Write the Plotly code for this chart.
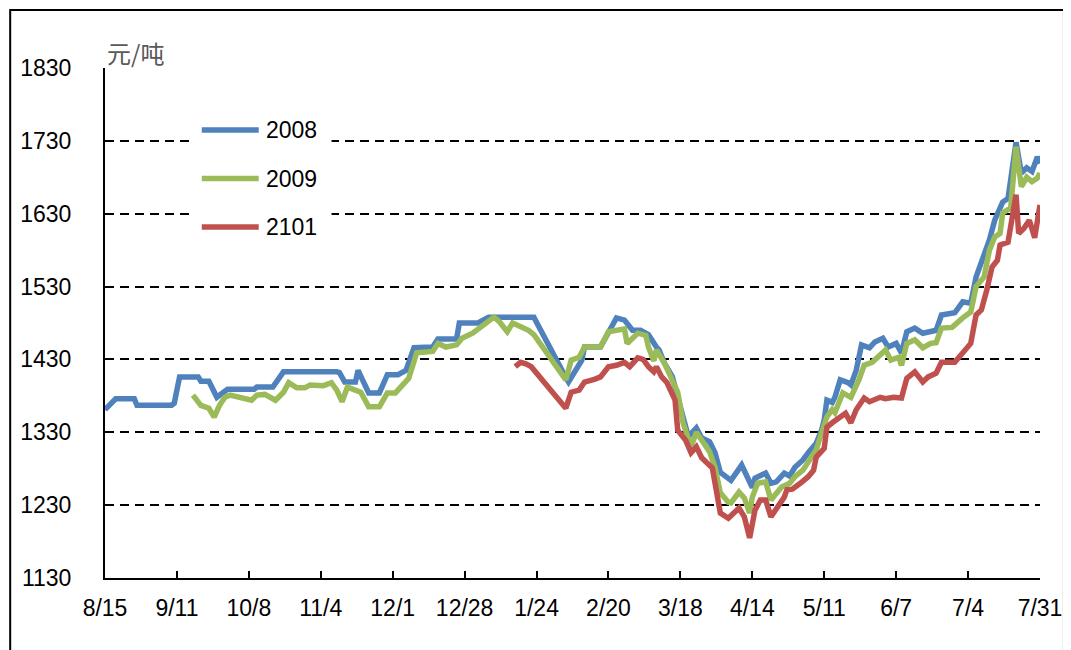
import plotly.graph_objects as go

# ---------------- data ----------------
dates_2008 = ["2019-08-15","2019-08-19","2019-08-26","2019-08-27","2019-09-09","2019-09-10","2019-09-12","2019-09-19","2019-09-20","2019-09-23",
              "2019-09-26","2019-09-30","2019-10-10","2019-10-11","2019-10-17","2019-10-21","2019-11-10","2019-11-11","2019-11-13","2019-11-17",
              "2019-11-18","2019-11-20","2019-11-22","2019-11-26","2019-11-29","2019-12-03","2019-12-06","2019-12-09","2019-12-16","2019-12-18",
              "2019-12-25","2019-12-26","2020-01-02","2020-01-06","2020-01-23","2020-02-04","2020-02-05","2020-02-10","2020-02-11","2020-02-17",
              "2020-02-23","2020-02-26","2020-02-29","2020-03-03","2020-03-06","2020-03-09","2020-03-10","2020-03-12","2020-03-15","2020-03-17",
              "2020-03-19","2020-03-21","2020-03-24","2020-03-26","2020-03-29","2020-03-31","2020-04-02","2020-04-06","2020-04-10","2020-04-13",
              "2020-04-14","2020-04-15","2020-04-17","2020-04-19","2020-04-21","2020-04-23","2020-04-26","2020-04-28","2020-04-30","2020-05-03",
              "2020-05-05","2020-05-08","2020-05-10","2020-05-11","2020-05-12","2020-05-14","2020-05-15","2020-05-17","2020-05-20","2020-05-21",
              "2020-05-23","2020-05-25","2020-05-28","2020-05-30","2020-06-02","2020-06-04","2020-06-07","2020-06-09","2020-06-11","2020-06-14",
              "2020-06-17","2020-06-22","2020-06-24","2020-06-29","2020-07-02","2020-07-05","2020-07-07","2020-07-09","2020-07-12","2020-07-14",
              "2020-07-17","2020-07-19","2020-07-22","2020-07-24","2020-07-26","2020-07-28","2020-07-30","2020-07-31"]
vals_2008 = [1361,1376,1376,1367,1367,1370,1406,1406,1400,1400,
             1378,1389,1389,1392,1392,1413,1413,1412,1399,1399,
             1415,1399,1384,1384,1409,1409,1415,1446,1447,1458,
             1458,1480,1480,1488,1488,1405,1399,1429,1447,1447,
             1487,1484,1470,1470,1464,1447,1443,1425,1406,1378,
             1351,1324,1336,1322,1317,1302,1275,1264,1285,1260,
             1254,1267,1271,1274,1260,1262,1274,1270,1282,1292,
             1302,1315,1333,1347,1374,1371,1378,1402,1398,1395,
             1415,1450,1446,1454,1459,1447,1452,1439,1468,1473,
             1466,1470,1491,1494,1509,1507,1543,1562,1594,1621,
             1646,1651,1728,1686,1693,1688,1708,1699]

dates_2009 = ["2019-09-17","2019-09-20","2019-09-23","2019-09-25","2019-09-27","2019-09-29","2019-10-01","2019-10-09","2019-10-11","2019-10-14",
              "2019-10-18","2019-10-21","2019-10-23","2019-10-26","2019-10-29","2019-10-31","2019-11-05","2019-11-08","2019-11-10","2019-11-12",
              "2019-11-14","2019-11-19","2019-11-22","2019-11-26","2019-11-29","2019-12-02","2019-12-04","2019-12-07","2019-12-10","2019-12-16",
              "2019-12-18","2019-12-21","2019-12-25","2019-12-27","2019-12-31","2020-01-06","2020-01-08","2020-01-10","2020-01-13","2020-01-15",
              "2020-01-17","2020-01-21","2020-01-23","2020-02-04","2020-02-06","2020-02-09","2020-02-11","2020-02-17","2020-02-20","2020-02-24",
              "2020-02-26","2020-02-27","2020-03-02","2020-03-05","2020-03-06","2020-03-08","2020-03-09","2020-03-12","2020-03-16","2020-03-17",
              "2020-03-19","2020-03-22","2020-03-24","2020-03-27","2020-03-29","2020-03-31","2020-04-02","2020-04-05","2020-04-06","2020-04-09",
              "2020-04-11","2020-04-13","2020-04-14","2020-04-16","2020-04-19","2020-04-21","2020-04-23","2020-04-25","2020-04-28","2020-04-30",
              "2020-05-03","2020-05-05","2020-05-08","2020-05-10","2020-05-12","2020-05-14","2020-05-15","2020-05-18","2020-05-21","2020-05-24",
              "2020-05-26","2020-05-29","2020-06-01","2020-06-03","2020-06-05","2020-06-08","2020-06-09","2020-06-11","2020-06-14","2020-06-17",
              "2020-06-20","2020-06-22","2020-06-24","2020-06-28","2020-07-02","2020-07-04","2020-07-05","2020-07-07","2020-07-10","2020-07-12",
              "2020-07-14","2020-07-16","2020-07-17","2020-07-20","2020-07-22","2020-07-24","2020-07-26","2020-07-28","2020-07-30","2020-07-31"]
vals_2009 = [1381,1367,1363,1351,1367,1378,1381,1374,1381,1382,
             1374,1385,1398,1391,1391,1395,1394,1398,1388,1372,
             1392,1385,1365,1365,1384,1384,1392,1404,1439,1441,
             1452,1447,1450,1459,1466,1484,1488,1482,1468,1480,
             1477,1470,1464,1402,1429,1433,1447,1447,1468,1470,
             1472,1452,1466,1463,1447,1428,1443,1425,1392,1385,
             1343,1310,1330,1313,1303,1282,1247,1234,1233,1248,
             1240,1219,1241,1260,1262,1237,1246,1255,1260,1269,
             1278,1288,1306,1329,1351,1361,1357,1384,1378,1402,
             1422,1426,1436,1443,1429,1433,1422,1452,1457,1446,
             1452,1453,1473,1474,1487,1494,1495,1530,1543,1580,
             1598,1603,1631,1638,1722,1667,1680,1674,1679,1686]

dates_2101 = ["2020-01-16","2020-01-18","2020-01-20","2020-01-22","2020-02-04","2020-02-06","2020-02-09","2020-02-11","2020-02-15","2020-02-17",
              "2020-02-20","2020-02-23","2020-02-26","2020-02-28","2020-03-02","2020-03-04","2020-03-06","2020-03-08","2020-03-09","2020-03-11",
              "2020-03-13","2020-03-16","2020-03-17","2020-03-20","2020-03-22","2020-03-24","2020-03-26","2020-03-28","2020-03-30","2020-04-02",
              "2020-04-05","2020-04-09","2020-04-11","2020-04-13","2020-04-15","2020-04-17","2020-04-19","2020-04-21","2020-04-23","2020-04-26",
              "2020-04-27","2020-04-29","2020-05-02","2020-05-05","2020-05-07","2020-05-08","2020-05-11","2020-05-12","2020-05-14","2020-05-17",
              "2020-05-19","2020-05-21","2020-05-23","2020-05-26","2020-05-28","2020-06-01","2020-06-03","2020-06-06","2020-06-09","2020-06-11",
              "2020-06-14","2020-06-17","2020-06-19","2020-06-22","2020-06-24","2020-06-29","2020-07-02","2020-07-04","2020-07-05","2020-07-07",
              "2020-07-09","2020-07-11","2020-07-13","2020-07-15","2020-07-16","2020-07-19","2020-07-22","2020-07-23","2020-07-25","2020-07-27",
              "2020-07-29","2020-07-31"]
vals_2101 = [1420,1426,1424,1420,1363,1385,1388,1399,1403,1406,
             1420,1422,1426,1420,1432,1430,1420,1413,1420,1406,
             1398,1374,1333,1319,1302,1310,1295,1288,1281,1219,
             1212,1226,1214,1185,1223,1237,1237,1214,1226,1241,
             1251,1252,1260,1269,1278,1296,1308,1337,1343,1351,
             1356,1343,1361,1377,1372,1378,1376,1378,1377,1404,
             1413,1399,1406,1411,1426,1426,1440,1447,1452,1491,
             1498,1525,1557,1566,1587,1591,1656,1603,1610,1621,
             1597,1642]

tick_dates = ["2019-08-15","2019-09-11","2019-10-08","2019-11-04","2019-12-01","2019-12-28","2020-01-24",
              "2020-02-20","2020-03-18","2020-04-14","2020-05-11","2020-06-07","2020-07-04","2020-07-31"]
tick_labels = ["8/15","9/11","10/8","11/4","12/1","12/28","1/24","2/20","3/18","4/14","5/11","6/7","7/4","7/31"]
y_ticks = [1130, 1230, 1330, 1430, 1530, 1630, 1730, 1830]

series_names = ["2008", "2009", "2101"]
series_dates = [dates_2008, dates_2009, dates_2101]
series_vals = [vals_2008, vals_2009, vals_2101]
series_colors = ["#4F81BD", "#9BBB59", "#C0504D"]

# ---------------- figure ----------------
fig = go.Figure()
for name, d, v, c in zip(series_names, series_dates, series_vals, series_colors):
    fig.add_trace(go.Scatter(x=d, y=v, name=name, mode="lines", showlegend=False,
                             line=dict(color=c, width=5.5, shape="linear")))

font_main = "Liberation Sans, Arial, sans-serif"

fig.update_layout(
    width=1071, height=650, autosize=False,
    margin=dict(l=95, r=39, t=60, b=80, pad=0),
    paper_bgcolor="white", plot_bgcolor="white",
    font=dict(family=font_main, size=23, color="black"),
    showlegend=False,
    xaxis=dict(type="date", range=["2019-08-15", "2020-07-31"],
               tickvals=tick_dates, ticktext=tick_labels,
               showgrid=False, zeroline=False,
               showline=True, linecolor="black", linewidth=2,
               ticks="inside", ticklen=7, tickwidth=1.5, tickcolor="black",
               ticklabelstandoff=8,
               tickfont=dict(size=23, family=font_main)),
    yaxis=dict(range=[1130, 1830], tickvals=y_ticks,
               showgrid=True, gridcolor="black", gridwidth=2, griddash="9px,6px",
               zeroline=False, showline=True, linecolor="black", linewidth=2,
               ticks="inside", ticklen=5, tickwidth=1.5, tickcolor="black",
               ticklabelstandoff=27,
               tickfont=dict(size=23, family=font_main)),
)

# unit label
fig.add_annotation(text="元/吨", xref="paper", yref="paper", x=0.0, y=1.031,
                   xanchor="left", yanchor="middle", showarrow=False,
                   font=dict(family="Noto Sans CJK SC", size=24, color="#595959"))

# legend (box, sample lines, labels)
fig.add_shape(type="rect", xref="paper", yref="paper",
              x0=0.0907, x1=0.2423, y0=0.643, y1=0.9216,
              line=dict(width=0), fillcolor="white", layer="above")
leg_top, leg_step = 0.8784, 0.0951
for i, (name, c) in enumerate(zip(series_names, series_colors)):
    yy = leg_top - i * leg_step
    fig.add_shape(type="line", xref="paper", yref="paper",
                  x0=0.1035, x1=0.1644, y0=yy, y1=yy,
                  line=dict(color=c, width=5.5), layer="above")
    fig.add_annotation(text=name, xref="paper", yref="paper", x=0.1697, y=yy,
                       xanchor="left", yanchor="middle", showarrow=False,
                       font=dict(family=font_main, size=23, color="black"))

# outer chart border
fig.add_shape(type="rect", xref="paper", yref="paper",
              x0=-0.1014, x1=1.0256, y0=-0.16, y1=1.1137,
              line=dict(color="black", width=2), fillcolor="rgba(0,0,0,0)", layer="below")

fig.write_html("out.html")
